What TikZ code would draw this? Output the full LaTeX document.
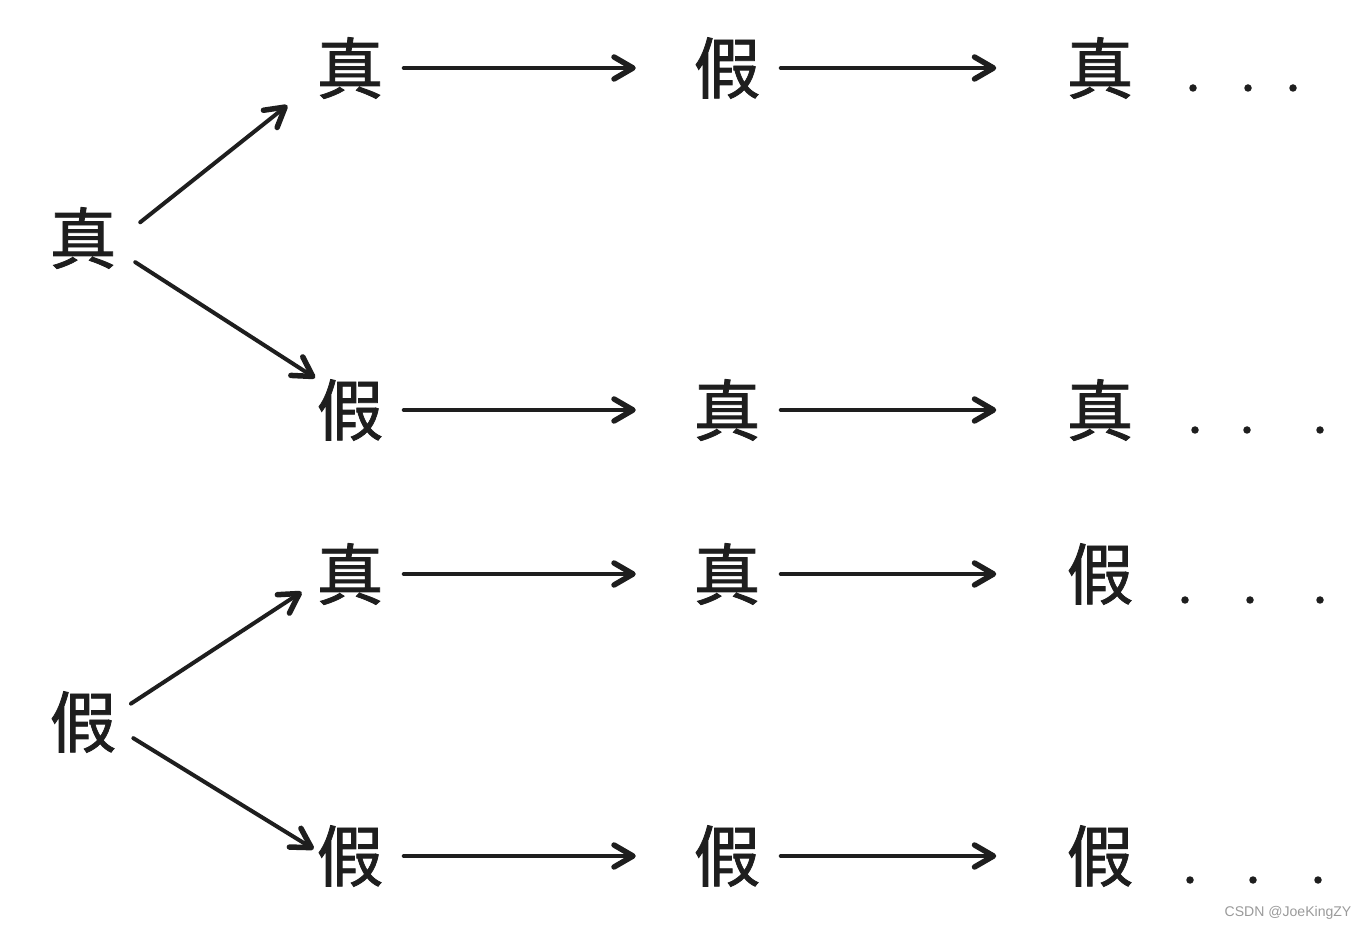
\documentclass[tikz,border=0pt]{standalone}
\usepackage{fontspec}
\newfontfamily\cjk[FakeBold=1.2]{Noto Sans CJK TC}
\newfontfamily\wmfont{Liberation Sans}
\usetikzlibrary{arrows.meta}
\definecolor{ink}{HTML}{1E1E1E}
\definecolor{mark}{HTML}{9A9A9A}

\begin{document}
\begin{tikzpicture}[
  x=0.2mm, y=-0.2mm, color=ink,
  ch/.style={font=\cjk\fontsize{38}{40}\selectfont, inner sep=0pt, text=ink},
  dotnode/.style={circle, fill=ink, inner sep=0pt, minimum size=1.5mm},
  arr/.style={-{Straight Barb[length=3.8mm, width=4.4mm, round, line width=1.1mm]},
              line width=0.8mm, line cap=round},
  link/.style={arr, shorten <=4mm, shorten >=11.5mm},
  linklast/.style={arr, shorten <=4mm, shorten >=14mm},
]
\useasboundingbox (0,0) rectangle (1365,931);

% roots
\node[ch] (rootT) at (83,238) {真};
\node[ch] (rootF) at (83,722) {假};

% rows
\node[ch] (a1) at (350,68) {真};
\node[ch] (a2) at (727,68) {假};
\node[ch] (a3) at (1100,68) {真};
\node[ch] (b1) at (350,410) {假};
\node[ch] (b2) at (727,410) {真};
\node[ch] (b3) at (1100,410) {真};
\node[ch] (c1) at (350,574) {真};
\node[ch] (c2) at (727,574) {真};
\node[ch] (c3) at (1100,574) {假};
\node[ch] (e1) at (350,856) {假};
\node[ch] (e2) at (727,856) {假};
\node[ch] (e3) at (1100,856) {假};

% branches
\draw[arr, shorten <=6mm, shorten >=7.4mm] (rootT.-5) -- (a1.203);
\draw[arr, shorten <=4.4mm, shorten >=0.4mm] (rootT.-20) -- (b1.137);
\draw[arr, shorten <=3.4mm, shorten >=3.5mm] (rootF.15) -- (c1.194);
\draw[arr, shorten <=3.9mm, shorten >=0.6mm] (rootF.-10) -- (e1.171);

% steps
\foreach \r in {a,b,c,e} {
  \draw[link] (\r1.east) -- (\r2.west);
  \draw[linklast] (\r2.east) -- (\r3.west);
}

% trailing dots
\foreach \r/\y/\p/\q/\s in {a/88/1193/1248/1293, b/430/1195/1247/1320,
                            c/600/1185/1250/1320, e/880/1190/1253/1318} {
  \node[dotnode] (\r d1) at (\p,\y) {};
  \node[dotnode] (\r d2) at (\q,\y) {};
  \node[dotnode] (\r d3) at (\s,\y) {};
}

% watermark
\node[font=\wmfont\fontsize{8}{9}\selectfont, text=mark] (wm) at (1288,913) {CSDN @JoeKingZY};
\end{tikzpicture}
\end{document}
